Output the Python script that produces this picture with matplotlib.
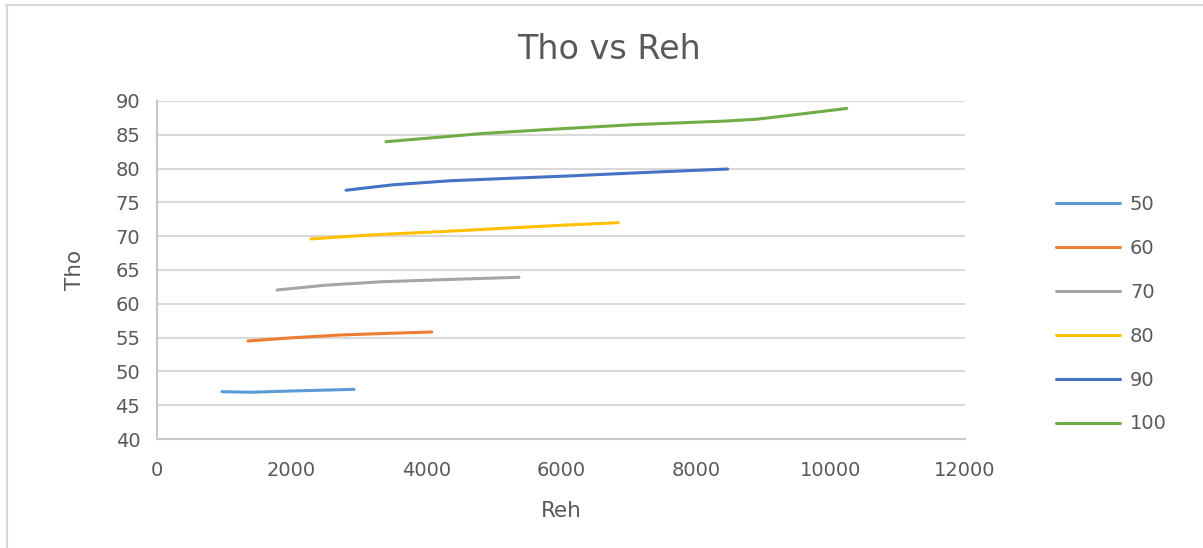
import matplotlib
matplotlib.use("Agg")
import matplotlib.pyplot as plt
from matplotlib.lines import Line2D

plt.rcParams["font.family"] = ["DejaVu Sans"]

# Reh / Tho readings for each series
series_names = ["50", "60", "70", "80", "90", "100"]
reh_50 = [965, 1400, 2000, 2926]
tho_50 = [47.0, 46.92, 47.1, 47.35]
reh_60 = [1351, 2000, 2718, 3400, 4080]
tho_60 = [54.5, 54.97, 55.38, 55.62, 55.83]
reh_70 = [1782, 2500, 3356, 4400, 5376]
tho_70 = [62.04, 62.75, 63.27, 63.62, 63.92]
reh_80 = [2287, 3200, 4203, 5200, 6084, 6851]
tho_80 = [69.6, 70.2, 70.67, 71.2, 71.66, 72.0]
reh_90 = [2807, 3500, 4351, 5200, 6084, 7300, 8475]
tho_90 = [76.8, 77.6, 78.2, 78.55, 78.9, 79.45, 79.94]
reh_100 = [3401, 4200, 4847, 5837, 7074, 8460, 8900, 9500, 10243]
tho_100 = [83.98, 84.65, 85.2, 85.8, 86.5, 87.04, 87.3, 88.0, 88.9]

reh_data = [reh_50, reh_60, reh_70, reh_80, reh_90, reh_100]
tho_data = [tho_50, tho_60, tho_70, tho_80, tho_90, tho_100]
colors = ["#5b9bd5", "#ed7d31", "#a5a5a5", "#ffc000", "#4472c4", "#70ad47"]

x_ticks = [0, 2000, 4000, 6000, 8000, 10000, 12000]
y_ticks = [40, 45, 50, 55, 60, 65, 70, 75, 80, 85, 90]

TEXT = "#595959"
GRID = "#d9d9d9"

fig = plt.figure(figsize=(12.03, 5.48), dpi=100)
ax = fig.add_axes([0.1305, 0.1989, 0.6717, 0.6168])

for name, xs, ys, c in zip(series_names, reh_data, tho_data, colors):
    ax.plot(xs, ys, color=c, lw=2.2, label=name, solid_capstyle="round")

ax.set_xlim(0, 12000)
ax.set_ylim(40, 90)
ax.set_xticks(x_ticks)
ax.set_yticks(y_ticks)
ax.tick_params(length=0, labelsize=14, labelcolor=TEXT)
ax.tick_params(axis="y", pad=12)
ax.tick_params(axis="x", pad=16)
ax.grid(axis="y", color=GRID, lw=1.5)
ax.set_axisbelow(True)
for side in ["top", "right"]:
    ax.spines[side].set_visible(False)
for side in ["left", "bottom"]:
    ax.spines[side].set_color("#c8c8c8")
    ax.spines[side].set_linewidth(1.5)

ax.set_xlabel("Reh", fontsize=15.5, color=TEXT, labelpad=15)
ax.set_ylabel("Tho", fontsize=15.5, color=TEXT, labelpad=22)
fig.text(0.506, 0.91, "Tho vs Reh", ha="center", va="center",
         fontsize=24, color=TEXT)

leg = fig.legend(loc="upper left", bbox_to_anchor=(1056 / 1203, 1 - 195 / 548),
                 frameon=False, fontsize=14, labelcolor=TEXT,
                 borderpad=0, borderaxespad=0,
                 handlelength=3.3, handletextpad=0.5, labelspacing=1.28)

# chart frame edges
fig.add_artist(Line2D([0.005, 1.0], [0.991, 0.991], color="#d9d9d9", lw=1.5))
fig.add_artist(Line2D([0.006, 0.006], [0.0, 0.991], color="#d9d9d9", lw=1.5))

fig.savefig("out.png", dpi=100)
